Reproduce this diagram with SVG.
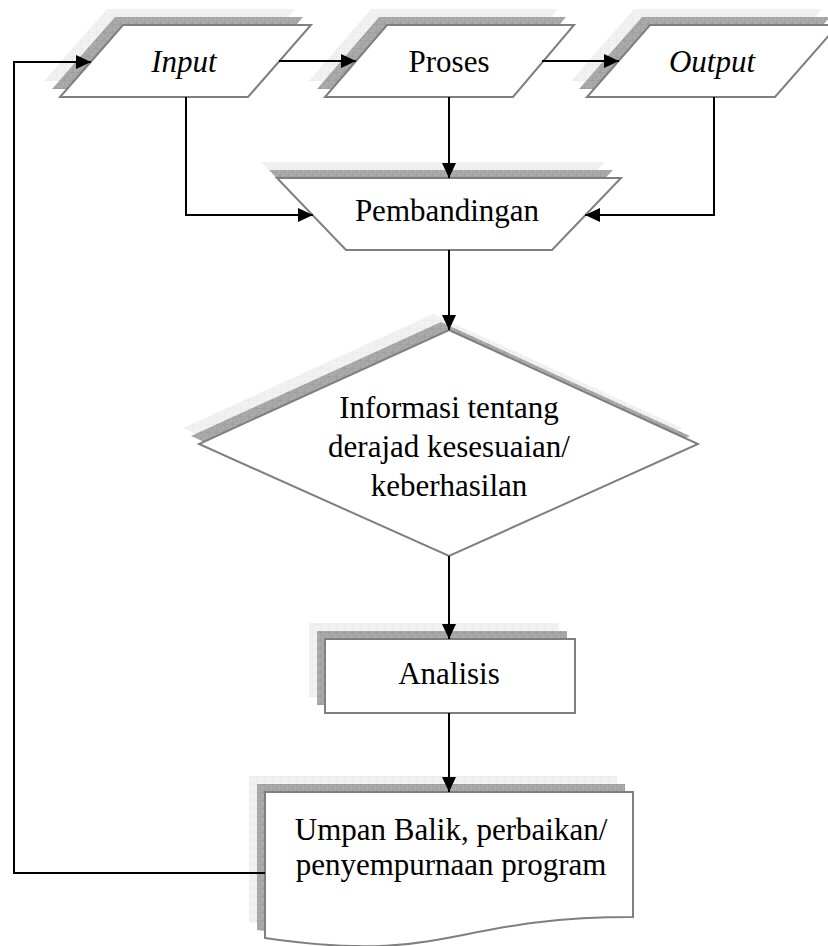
<svg xmlns="http://www.w3.org/2000/svg" width="828" height="946" viewBox="0 0 828 946">
<defs>
<pattern id="dark" width="8" height="8" patternUnits="userSpaceOnUse">
<rect width="8" height="8" fill="#ababab"/>
<path d="M0,0 L8,8 M8,0 L0,8" stroke="#9a9a9a" stroke-width="0.6"/>
<path d="M0,0 H8 M0,0 V8" stroke="#8e8e8e" stroke-width="0.6"/>
</pattern>
<pattern id="light" width="8" height="8" patternUnits="userSpaceOnUse">
<rect width="8" height="8" fill="#f1f1f1"/>
<path d="M0,0 H8 M0,0 V8" stroke="#e2e2e2" stroke-width="0.6"/>
</pattern>
<marker id="ah" markerUnits="userSpaceOnUse" markerWidth="15" markerHeight="14" refX="15" refY="7" orient="auto">
<path d="M0,0 L15,7 L0,14 Z" fill="#000"/>
</marker>
</defs>
<style>
.sh1{fill:url(#light);stroke:none}
.sh2{fill:url(#dark);stroke:none}
.box{fill:#fff;stroke:#7f7f7f;stroke-width:2}
.t{font-family:"Liberation Serif","Times New Roman",serif;font-size:31px;fill:#000;text-anchor:middle}
.it{font-style:italic}
.c{fill:none;stroke:#000;stroke-width:2}
</style>

<g id="input">
<polygon class="sh1" points="107,9 295,9 232,81 44,81"/>
<polygon class="sh2" points="115,17 303,17 240,89 52,89"/>
<polygon class="box" points="123,25 311,25 248,97 60,97"/>
<text class="t it" x="184" y="72">Input</text>
</g>

<g id="proses">
<polygon class="sh1" points="371,9 558,9 497,81 309,81"/>
<polygon class="sh2" points="379,17 566,17 505,89 317,89"/>
<polygon class="box" points="387,25 574,25 513,97 325,97"/>
<text class="t" x="449" y="72">Proses</text>
</g>

<g id="output">
<polygon class="sh1" points="634,9 822,9 759,81 571,81"/>
<polygon class="sh2" points="642,17 830,17 767,89 579,89"/>
<polygon class="box" points="650,25 838,25 775,97 587,97"/>
<text class="t it" x="712" y="72">Output</text>
</g>

<g id="pembandingan">
<polygon class="sh1" points="261,162 605,162 536,234 330,234"/>
<polygon class="sh2" points="269,170 613,170 544,242 338,242"/>
<polygon class="box" points="277,178 621,178 552,250 346,250"/>
<text class="t" x="447" y="221">Pembandingan</text>
</g>

<g id="informasi">
<polygon class="sh1" points="433,314 682,428 433,540 183,428"/>
<polygon class="sh2" points="441,322 690,436 441,548 191,436"/>
<polygon class="box" points="449,330 698,444 449,556 199,444"/>
<text class="t" x="449" y="418">Informasi tentang</text>
<text class="t" x="449" y="457">derajad kesesuaian/</text>
<text class="t" x="449" y="496">keberhasilan</text>
</g>

<g id="analisis">
<rect class="sh1" x="309" y="623" width="250" height="74"/>
<rect class="sh2" x="317" y="631" width="250" height="74"/>
<rect class="box" x="325" y="639" width="250" height="74"/>
<text class="t" x="449" y="684">Analisis</text>
</g>

<g id="umpan">
<path class="sh1" d="M249,776 H617 V901 C433,901 433,949 249,922 Z"/>
<path class="sh2" d="M257,784 H625 V909 C441,909 441,957 257,930 Z"/>
<path class="box" d="M265,792 H633 V917 C449,917 449,965 265,938 Z"/>
<text class="t" x="451" y="840">Umpan Balik, perbaikan/</text>
<text class="t" x="451" y="875">penyempurnaan program</text>
</g>

<g id="connectors">
<path class="c" d="M279,61 H356" marker-end="url(#ah)"/>
<path class="c" d="M542,61 H619" marker-end="url(#ah)"/>
<path class="c" d="M186,97 V215 H313" marker-end="url(#ah)"/>
<path class="c" d="M449,97 V178" marker-end="url(#ah)"/>
<path class="c" d="M714,97 V215 H585" marker-end="url(#ah)"/>
<path class="c" d="M449,250 V330" marker-end="url(#ah)"/>
<path class="c" d="M449,556 V639" marker-end="url(#ah)"/>
<path class="c" d="M449,713 V792" marker-end="url(#ah)"/>
<path class="c" d="M265,873 H14 V62 H91" marker-end="url(#ah)"/>
</g>
</svg>
